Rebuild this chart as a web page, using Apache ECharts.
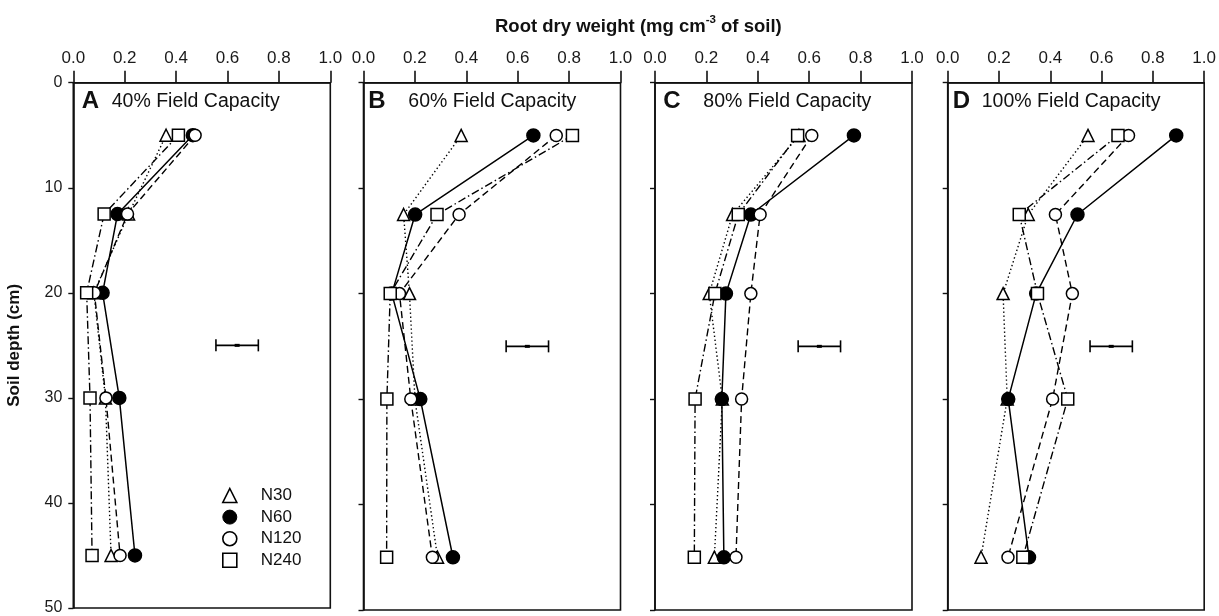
<!DOCTYPE html>
<html>
<head>
<meta charset="utf-8">
<script src="https://cdn.jsdelivr.net/npm/echarts@6/dist/echarts.min.js"></script>
<style>
html,body{margin:0;padding:0;background:#fff;}
#chart{width:1219px;height:616px;}
</style>
</head>
<body>
<div id="chart"></div>
<script>
// ---- data ----
const depths = [5, 12.5, 20, 30, 45];
const xTicks = [0, 0.2, 0.4, 0.6, 0.8, 1.0];
const yTicks = [0, 10, 20, 30, 40, 50];
const seriesNames = ['N30', 'N60', 'N120', 'N240'];
const panelLetters = ['A', 'B', 'C', 'D'];
const panelCaptions = ['40% Field Capacity', '60% Field Capacity', '80% Field Capacity', '100% Field Capacity'];

const A_N30  = [0.361, 0.215, 0.080, 0.125, 0.147];
const A_N60  = [0.465, 0.172, 0.114, 0.179, 0.240];
const A_N120 = [0.474, 0.211, 0.082, 0.127, 0.182];
const A_N240 = [0.409, 0.120, 0.052, 0.065, 0.073];

const B_N30  = [0.380, 0.156, 0.179, 0.200, 0.288];
const B_N60  = [0.661, 0.201, 0.110, 0.221, 0.348];
const B_N120 = [0.750, 0.372, 0.140, 0.184, 0.268];
const B_N240 = [0.813, 0.286, 0.104, 0.091, 0.090];

const C_N30  = [0.560, 0.302, 0.211, 0.262, 0.231];
const C_N60  = [0.774, 0.373, 0.276, 0.260, 0.268];
const C_N120 = [0.610, 0.409, 0.373, 0.337, 0.315];
const C_N240 = [0.555, 0.324, 0.233, 0.156, 0.153];

const D_N30  = [0.547, 0.314, 0.216, 0.232, 0.130];
const D_N60  = [0.891, 0.506, 0.345, 0.236, 0.317];
const D_N120 = [0.705, 0.420, 0.486, 0.409, 0.235];
const D_N240 = [0.664, 0.279, 0.350, 0.468, 0.293];

// error bar (LSD) per panel: [low, high] at depth
const errDepth = 25;
const errA = [0.555, 0.720];
const errB = [0.555, 0.720];
const errC = [0.557, 0.722];
const errD = [0.555, 0.720];

const panels = [
  [A_N30, A_N60, A_N120, A_N240],
  [B_N30, B_N60, B_N120, B_N240],
  [C_N30, C_N60, C_N120, C_N240],
  [D_N30, D_N60, D_N120, D_N240]
];
const errBars = [errA, errB, errC, errD];

// ---- styles ----
const FONT = '"Liberation Sans", Arial, Helvetica, sans-serif';
const gridLefts = [73.3, 363.5, 655, 947.7];
const gridW = 257, gridTop = 82.7, gridH = 527.3;

const symbolDefs = [
  {symbol: 'triangle', fill: '#fff', line: [1.4, 2.6], size: 12},
  {symbol: 'circle', fill: '#000', line: 'solid', size: 13},
  {symbol: 'circle', fill: '#fff', line: [7, 4], size: 12},
  {symbol: 'rect', fill: '#fff', line: [8, 3, 1.5, 3], size: 12}
];

const grids = [], xAxes = [], yAxes = [], series = [], graphics = [];

gridLefts.forEach((left, p) => {
  grids.push({left: left, top: gridTop, width: gridW, height: gridH,
    show: true, borderColor: '#111', borderWidth: 1.6, backgroundColor: 'transparent'});
  xAxes.push({
    gridIndex: p, type: 'value', position: 'top', min: xTicks[0], max: xTicks[xTicks.length - 1], interval: 0.2,
    axisLine: {show: true, lineStyle: {color: '#111', width: 1.6}},
    axisTick: {show: true, inside: false, length: 12, lineStyle: {color: '#111', width: 1.6}},
    axisLabel: {show: true, margin: 16, fontSize: 17, color: '#1a1a1a', fontFamily: FONT,
      formatter: v => v.toFixed(1)},
    splitLine: {show: false}
  });
  yAxes.push({
    gridIndex: p, type: 'value', inverse: true, min: yTicks[0], max: yTicks[yTicks.length - 1], interval: 10,
    axisLine: {show: true, lineStyle: {color: '#111', width: 1.6}},
    axisTick: {show: true, inside: false, length: 5, lineStyle: {color: '#111', width: 1.4}},
    axisLabel: {show: p === 0, margin: 11, fontSize: 16, color: '#1a1a1a', fontFamily: FONT},
    splitLine: {show: false},
    name: p === 0 ? 'Soil depth (cm)' : '',
    nameLocation: 'middle', nameGap: 50, nameRotate: 90,
    nameTextStyle: {fontSize: 17, fontWeight: 'bold', color: '#111', fontFamily: FONT}
  });

  panels[p].forEach((vals, s) => {
    const d = symbolDefs[s];
    series.push({
      type: 'line', name: seriesNames[s], xAxisIndex: p, yAxisIndex: p,
      data: vals.map((v, i) => [v, depths[i]]),
      symbol: d.symbol, symbolSize: d.size, showSymbol: true,
      lineStyle: {color: '#000', width: s === 1 ? 1.5 : 1.4, type: d.line},
      itemStyle: {color: d.fill, borderColor: '#000', borderWidth: 1.5},
      emphasis: {disabled: true}, z: 2 + s,
      animation: false
    });
  });

  series.push({
    type: 'custom', name: 'LSD', xAxisIndex: p, yAxisIndex: p,
    data: [[errBars[p][0], errBars[p][1], errDepth]],
    renderItem: function (params, api) {
      const a = api.coord([api.value(0), api.value(2)]);
      const b = api.coord([api.value(1), api.value(2)]);
      const mid = (a[0] + b[0]) / 2;
      const st = {stroke: '#000', lineWidth: 1.6};
      return {type: 'group', children: [
        {type: 'line', shape: {x1: a[0], y1: a[1], x2: b[0], y2: b[1]}, style: st},
        {type: 'line', shape: {x1: a[0], y1: a[1] - 6, x2: a[0], y2: a[1] + 6}, style: st},
        {type: 'line', shape: {x1: b[0], y1: b[1] - 6, x2: b[0], y2: b[1] + 6}, style: st},
        {type: 'line', shape: {x1: mid - 2.5, y1: a[1], x2: mid + 2.5, y2: a[1]}, style: {stroke: '#000', lineWidth: 3}}
      ]};
    },
    animation: false, silent: true, z: 1
  });
});

// panel letters & captions
const letterX = [81.7, 368.3, 663.3, 952.7];
const captionX = [111.7, 408.3, 703.3, 981.7];
panelLetters.forEach((L, p) => {
  graphics.push({type: 'text', left: letterX[p], top: 89, z: 10,
    style: {text: L, font: 'bold 24px ' + FONT, fill: '#111'}});
  graphics.push({type: 'text', left: captionX[p], top: 92, z: 10,
    style: {text: panelCaptions[p], font: '19.5px ' + FONT, fill: '#111'}});
});

const chart = echarts.init(document.getElementById('chart'), null, {renderer: 'canvas'});
chart.setOption({
  animation: false,
  backgroundColor: '#fff',
  title: {
    text: '{b|Root dry weight (mg cm}{s|-3}{b| of soil)}',
    left: 490, top: 9,
    textStyle: {rich: {
      b: {fontSize: 18.5, fontWeight: 'bold', color: '#111', fontFamily: FONT, verticalAlign: 'bottom', lineHeight: 22},
      s: {fontSize: 11.5, fontWeight: 'bold', color: '#111', fontFamily: FONT, verticalAlign: 'top', lineHeight: 22, padding: [0, 0, 10, 0]}
    }}
  },
  legend: {
    orient: 'vertical', left: 222, top: 487, padding: 0,
    itemWidth: 14, itemHeight: 14, itemGap: 4.6, selectedMode: false,
    textStyle: {fontSize: 17, color: '#111', fontFamily: FONT, padding: [0, 0, 0, 19]},
    data: [
      {name: 'N30', icon: 'triangle', itemStyle: {color: '#fff', borderColor: '#000', borderWidth: 1.6}},
      {name: 'N60', icon: 'circle', itemStyle: {color: '#000', borderColor: '#000', borderWidth: 1}},
      {name: 'N120', icon: 'circle', itemStyle: {color: '#fff', borderColor: '#000', borderWidth: 1.6}},
      {name: 'N240', icon: 'rect', itemStyle: {color: '#fff', borderColor: '#000', borderWidth: 1.6}}
    ]
  },
  grid: grids, xAxis: xAxes, yAxis: yAxes, series: series,
  graphic: graphics
});
</script>
</body>
</html>
